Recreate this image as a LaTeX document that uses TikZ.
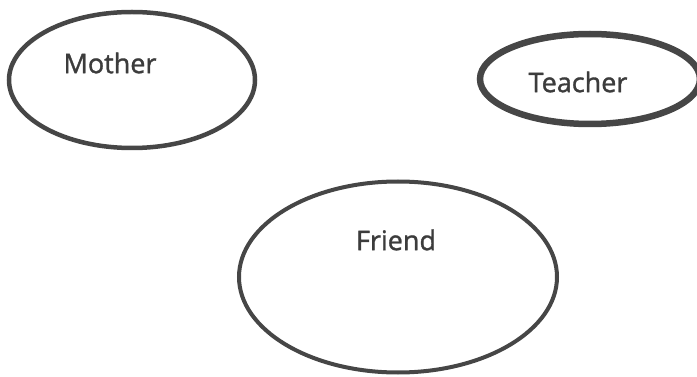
\documentclass[tikz,border=0pt]{standalone}
\usepackage{fontspec}
\setmainfont{Open Sans}
\newfontfamily\tagfont{Open Sans}[BoldFont={Open Sans}, BoldFeatures={FakeBold=1.3}]
\usepackage{tikz}
\usetikzlibrary{shapes.geometric, positioning}
\definecolor{inkgray}{RGB}{70, 70, 70}
\definecolor{textgray}{RGB}{60, 60, 60}

\begin{document}
\begin{tikzpicture}[
  x=1pt, y=-1pt,
  bubble/.style={draw=inkgray, ellipse, inner sep=0pt, line width=4.5pt},
  tag/.style={font=\tagfont\bfseries\fontsize{27}{32}\selectfont, text=textgray, inner sep=0pt}
]
  \useasboundingbox (0,0) rectangle (697,377);

  \node[bubble, minimum width=246pt, minimum height=136pt] (mother) at (132,80) {};
  \node[bubble, line width=6.5pt, minimum width=220pt, minimum height=90pt] (teacher) at (590,79) {};
  \node[bubble, line width=4pt, minimum width=318pt, minimum height=191pt] (friend) at (398,277) {};

  \node[tag] (mothertxt) at (110,63) {Mother};
  \node[tag] (teachertxt) at (578,82) {Teacher};
  \node[tag] (friendtxt) at (396,240) {Friend};
\end{tikzpicture}
\end{document}
